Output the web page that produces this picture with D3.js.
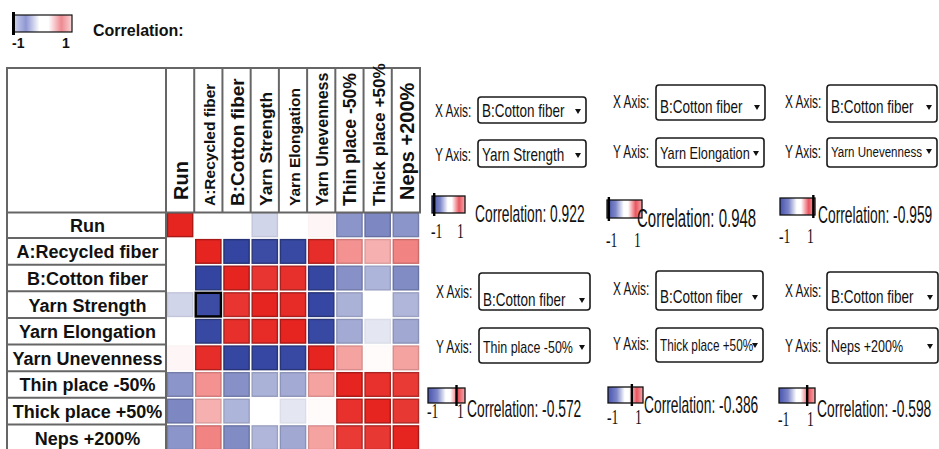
<!DOCTYPE html>
<html>
<head>
<meta charset="utf-8">
<script src="https://cdn.jsdelivr.net/npm/d3@7"></script>
<style>
  html, body { margin: 0; padding: 0; background: #fff; }
  svg { display: block; }
</style>
</head>
<body>
<svg id="chart" width="939" height="449"></svg>
<script>
// ---- data -------------------------------------------------------------
const variables = ["Run", "A:Recycled fiber", "B:Cotton fiber", "Yarn Strength",
  "Yarn Elongation", "Yarn Unevenness", "Thin place -50%", "Thick place +50%", "Neps +200%"];

// correlation matrix, one row per variable (same order as `variables`)
const rowRun        = [ 1.00,  0.00,   0.00,  -0.22,  0.00,  0.04,  -0.55, -0.62, -0.55];
const rowRecycled   = [ 0.00,  1.00,  -0.97,  -0.93, -0.95,  0.96,   0.50,  0.36,  0.56];
const rowCotton     = [ 0.00, -0.97,   1.00,   0.922, 0.948, -0.959, -0.572, -0.386, -0.598];
const rowStrength   = [-0.22, -0.93,   0.922,  1.00,  0.97, -0.96,  -0.40,  0.00, -0.38];
const rowElongation = [ 0.00, -0.95,   0.948,  0.97,  1.00, -0.95,  -0.44, -0.13, -0.45];
const rowUnevenness = [ 0.04,  0.96,  -0.959, -0.96, -0.95,  1.00,   0.42,  0.02,  0.42];
const rowThin       = [-0.55,  0.50,  -0.572, -0.40, -0.44,  0.42,   1.00,  0.94,  0.90];
const rowThick      = [-0.62,  0.36,  -0.386,  0.00, -0.13,  0.02,   0.94,  1.00,  0.91];
const rowNeps       = [-0.55,  0.56,  -0.598, -0.38, -0.45,  0.42,   0.90,  0.91,  1.00];
const matrix = [rowRun, rowRecycled, rowCotton, rowStrength, rowElongation,
  rowUnevenness, rowThin, rowThick, rowNeps];

const selectedCell = { row: "Yarn Strength", col: "A:Recycled fiber" };

// scatter-panel selections: X is the same for every panel
const panelX = "B:Cotton fiber";
const panelY = ["Yarn Strength", "Yarn Elongation", "Yarn Unevenness",
  "Thin place -50%", "Thick place +50%", "Neps +200%"];

const legendTicks = [-1, 1];

// ---- styles / layout -----------------------------------------------------
const FONT = "'Liberation Sans', Arial, sans-serif";
const SERIF = "'Liberation Serif', 'Times New Roman', serif";
const GRID = "#666";
const headerFont = [20, 15.5, 19, 17.4, 15.5, 16, 17.6, 17.2, 20];

const panelLayout = [
  { ax: 435, xl: 117, xb: [478, 97, 108, 26], xt: 117, yl: 161, yb: [478, 140, 108, 27], yt: 161, yfs: 18,
    bar: [432, 196, 33, 17], nt: 238, cx: 475, ct: 222, cfs: 23 },
  { ax: 613, xl: 108, xb: [656, 85, 109, 35], xt: 113, yl: 158, yb: [656, 138, 108, 29], yt: 159, yfs: 17,
    bar: [607, 200, 35, 18], nt: 247, cx: 637, ct: 227, cfs: 25 },
  { ax: 785, xl: 108, xb: [827, 85, 110, 37], xt: 113, yl: 158, yb: [827, 138, 110, 29], yt: 157, yfs: 15.4,
    bar: [780, 198, 35, 17], nt: 243, cx: 818, ct: 223, cfs: 23 },
  { ax: 436, xl: 298, xb: [479, 273, 111, 37], xt: 306, yl: 353, yb: [479, 328, 111, 35], yt: 353, yfs: 16.6,
    bar: [428, 388, 37, 15], nt: 418, cx: 467, ct: 417, cfs: 23 },
  { ax: 613, xl: 295, xb: [656, 271, 107, 39], xt: 303, yl: 350, yb: [656, 328, 107, 34], yt: 351, yfs: 15.7,
    bar: [608, 387, 35, 16], nt: 424, cx: 644, ct: 413, cfs: 23 },
  { ax: 785, xl: 297, xb: [827, 272, 111, 38], xt: 303, yl: 352, yb: [827, 328, 111, 35], yt: 352, yfs: 16.7,
    bar: [779, 388, 36, 15], nt: 426, cx: 817, ct: 417, cfs: 23 }
];

// ---- helpers -------------------------------------------------------------
const svg = d3.select("#chart");
const color = d3.scaleLinear().domain([-1, 0, 1]).range(["#2d3f9e", "#ffffff", "#e62420"]);

// narrow text: horizontally squeezed by factor k
function narrowText(g, x, y, str, fs, k, family) {
  return g.append("text")
    .attr("transform", `translate(${x},${y}) scale(${k},1)`)
    .attr("font-family", family || FONT).attr("font-size", fs).attr("fill", "#111")
    .text(str);
}

const defs = svg.append("defs");
function gradient(id, stops) {
  const g = defs.append("linearGradient").attr("id", id).attr("x1", "0%").attr("x2", "100%");
  stops.forEach(([o, c]) => g.append("stop").attr("offset", o).attr("stop-color", c));
}
gradient("legendGrad", [[0, "#d3d6ee"], [0.22, "#8f97d3"], [0.45, "#ffffff"], [0.6, "#ffffff"],
  [0.82, "#ee8990"], [1, "#f8d6d8"]]);
gradient("panelGrad", [[0, "#4753ad"], [0.25, "#7e87c9"], [0.48, "#ffffff"], [0.6, "#ffffff"],
  [0.82, "#e9555f"], [1, "#f3a9ae"]]);

// ---- main legend -----------------------------------------------------------
const leg = svg.append("g");
const legScale = d3.scaleLinear().domain([-1, 1]).range([13, 72]);
leg.append("rect").attr("x", legScale(-1)).attr("y", 15).attr("width", legScale(1) - legScale(-1))
  .attr("height", 17).attr("fill", "url(#legendGrad)").attr("stroke", "#111").attr("stroke-width", 1.2);
leg.append("line").attr("x1", legScale(-1) + 0.5).attr("x2", legScale(-1) + 0.5)
  .attr("y1", 12).attr("y2", 35).attr("stroke", "#000").attr("stroke-width", 3);
leg.selectAll("text.tick").data(legendTicks).join("text")
  .attr("x", d => d < 0 ? legScale(d) - 1 : legScale(d) - 10).attr("y", 48)
  .attr("font-family", FONT).attr("font-weight", "bold").attr("font-size", 14)
  .attr("fill", "#111").text(d => d);
leg.append("text").attr("x", 93).attr("y", 36).attr("font-family", FONT)
  .attr("font-weight", "bold").attr("font-size", 16).attr("fill", "#111").text("Correlation:");

// ---- heatmap ---------------------------------------------------------------
const xBand = d3.scaleBand().domain(variables).range([166, 420]);
const yBand = d3.scaleBand().domain(variables).range([211.5, 451]);
const bw = xBand.bandwidth(), bh = yBand.bandwidth();
const labelLeft = 7, tableTop = 68, headerBottom = 212.5;

const cells = [];
variables.forEach((r, i) => variables.forEach((c, j) => cells.push({ row: r, col: c, v: matrix[i][j] })));

svg.append("g").selectAll("rect").data(cells).join("rect")
  .attr("x", d => xBand(d.col) + 1.5)
  .attr("y", d => yBand(d.row) + 1.5)
  .attr("width", bw - 3)
  .attr("height", bh - 3)
  .attr("fill", d => color(d.v))
  .attr("stroke", d => d3.color(color(d.v)).darker(Math.abs(d.v) * 0.9))
  .attr("stroke-width", 1.4);

svg.append("rect")
  .attr("x", xBand(selectedCell.col) + 1.5).attr("y", yBand(selectedCell.row) + 1.5)
  .attr("width", bw - 3).attr("height", bh - 3)
  .attr("fill", "none").attr("stroke", "#000").attr("stroke-width", 2.4);

// table grid
const grid = svg.append("g").attr("stroke", GRID).attr("stroke-width", 2).attr("fill", "none");
grid.append("line").attr("x1", labelLeft).attr("x2", labelLeft).attr("y1", tableTop - 1).attr("y2", 449);
grid.append("line").attr("x1", xBand.range()[0]).attr("x2", xBand.range()[0]).attr("y1", tableTop - 1).attr("y2", 449);
grid.append("line").attr("x1", labelLeft - 1).attr("x2", xBand.range()[1] + 1).attr("y1", tableTop).attr("y2", tableTop);
grid.append("line").attr("x1", labelLeft).attr("x2", xBand.range()[1] + 1).attr("y1", headerBottom).attr("y2", headerBottom);
grid.selectAll("line.hv").data(variables).join("line")
  .attr("x1", d => xBand(d) + bw).attr("x2", d => xBand(d) + bw)
  .attr("y1", tableTop).attr("y2", headerBottom);
grid.selectAll("line.rh").data(variables).join("line")
  .attr("x1", labelLeft).attr("x2", xBand.range()[0])
  .attr("y1", d => yBand(d) + bh).attr("y2", d => yBand(d) + bh);

// column headers (rotated)
svg.append("g").selectAll("text").data(variables).join("text")
  .attr("transform", d => `translate(${xBand(d) + bw / 2 + 1},${d === "Run" || d === "Neps +200%" ? 200 : 206}) rotate(-90)`)
  .attr("dominant-baseline", "central")
  .attr("font-family", FONT).attr("font-weight", "bold")
  .attr("font-size", (d, i) => headerFont[i])
  .attr("fill", "#111").text(d => d);

// row labels
svg.append("g").selectAll("text").data(variables).join("text")
  .attr("x", (labelLeft + xBand.range()[0]) / 2 + 1)
  .attr("y", d => yBand(d) + bh / 2 + 1)
  .attr("text-anchor", "middle").attr("dominant-baseline", "central")
  .attr("font-family", FONT).attr("font-weight", "bold").attr("font-size", 18)
  .attr("fill", "#111").text(d => d);

// ---- pairwise panels ---------------------------------------------------------
const idx = name => variables.indexOf(name);
const panels = panelY.map((yName, i) => ({
  xName: panelX, yName, r: matrix[idx(panelX)][idx(yName)], L: panelLayout[i]
}));

function dropdown(g, box, axisName, value, labelX, labelBase, textBase, fs) {
  const [bx, by, bwid, bht] = box;
  narrowText(g, labelX, labelBase, axisName, 18, 0.66);
  g.append("rect").attr("x", bx).attr("y", by).attr("width", bwid).attr("height", bht)
    .attr("rx", 3).attr("fill", "#fff").attr("stroke", "#1a1a1a").attr("stroke-width", 1.6);
  narrowText(g, bx + 4, textBase, value, fs, 0.75);
  const ax = bx + bwid - 8, ay = textBase - 8;
  g.append("path").attr("d", `M${ax - 3},${ay} L${ax + 3},${ay} L${ax},${ay + 5} Z`).attr("fill", "#111");
}

panels.forEach(p => {
  const L = p.L;
  const g = svg.append("g");
  dropdown(g, L.xb, "X Axis:", p.xName, L.ax, L.xl, L.xt, 18);
  dropdown(g, L.yb, "Y Axis:", p.yName, L.ax, L.yl, L.yt, L.yfs);

  const [barX, barY, barW, barH] = L.bar;
  const s = d3.scaleLinear().domain([-1, 1]).range([barX, barX + barW]);
  const marker = d3.scaleLinear().domain([1, -1]).range([barX + 1, barX + barW - 1]);
  g.append("rect").attr("x", s(-1)).attr("y", barY).attr("width", s(1) - s(-1)).attr("height", barH)
    .attr("fill", "url(#panelGrad)").attr("stroke", "#111").attr("stroke-width", 1.3);
  g.append("line").attr("x1", marker(p.r)).attr("x2", marker(p.r))
    .attr("y1", barY - 3).attr("y2", barY + barH + 3).attr("stroke", "#000").attr("stroke-width", 2.4);
  legendTicks.forEach(t => narrowText(g, t < 0 ? s(t) - 1 : s(t) - 8, L.nt, t, 22, 0.62, SERIF));
  narrowText(g, L.cx, L.ct, "Correlation: " + p.r.toFixed(3), L.cfs, 0.6);
});
</script>
</body>
</html>
